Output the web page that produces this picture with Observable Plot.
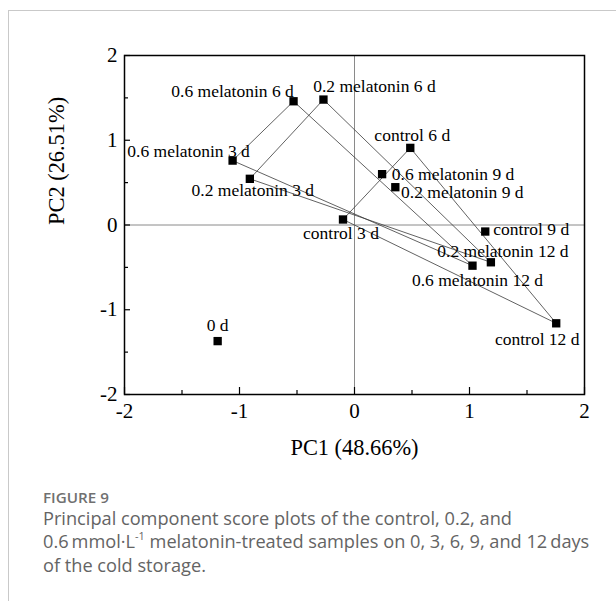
<!DOCTYPE html>
<html>
<head>
<meta charset="utf-8">
<script src="https://cdn.jsdelivr.net/npm/d3@7"></script>
<script src="https://cdn.jsdelivr.net/npm/@observablehq/plot@0.6"></script>
<style>
  html, body { margin: 0; padding: 0; background: #fff; width: 616px; height: 601px; overflow: hidden; }
  #border { position: absolute; left: 8px; top: 10px; width: 640px; height: 640px; border-left: 1.5px solid #c9c9c9; border-top: 1.5px solid #c9c9c9; }
  #chart { position: absolute; left: 0; top: 0; }
  #chart svg text { font-family: "Liberation Serif", "Times New Roman", serif; }
  #caption { position: absolute; left: 43px; top: 487px; font-family: "Open Sans", sans-serif; color: #666; }
  #caption .fig { font-weight: 600; font-size: 15.2px; line-height: 20px; color: #707070; }
  #caption .txt { font-size: 18.2px; line-height: 23.3px; color: #646464; white-space: nowrap; }
  #caption sup { font-size: 0.6em; line-height: 0; vertical-align: 0.7em; }
</style>
</head>
<body>
<div id="border"></div>
<div id="chart"></div>
<div id="caption">
  <div class="fig">FIGURE 9</div>
  <div class="txt">Principal component score plots of the control, 0.2, and<br>0.6&thinsp;mmol·L<sup>-1</sup> melatonin-treated samples on 0, 3, 6, 9, and 12&thinsp;days<br>of the cold storage.</div>
</div>
<script>
// ---- data ----
const sampleLabels = [
  "0 d",
  "0.6 melatonin 3 d", "0.2 melatonin 3 d", "control 3 d",
  "0.6 melatonin 6 d", "0.2 melatonin 6 d", "control 6 d",
  "0.6 melatonin 9 d", "0.2 melatonin 9 d", "control 9 d",
  "0.6 melatonin 12 d", "0.2 melatonin 12 d", "control 12 d"
];
const pc1Scores = [-1.19, -1.06, -0.91, -0.10, -0.53, -0.27, 0.485, 0.24, 0.355, 1.137, 1.026, 1.186, 1.754];
const pc2Scores = [-1.37, 0.76, 0.545, 0.065, 1.46, 1.48, 0.91, 0.60, 0.446, -0.077, -0.48, -0.44, -1.16];

// connecting lines (from -> to)
const connections = [
  ["0.6 melatonin 3 d", "0.6 melatonin 6 d"],
  ["0.6 melatonin 6 d", "0.6 melatonin 12 d"],
  ["0.6 melatonin 12 d", "0.6 melatonin 3 d"],
  ["0.2 melatonin 3 d", "0.2 melatonin 6 d"],
  ["0.2 melatonin 6 d", "0.2 melatonin 12 d"],
  ["0.2 melatonin 12 d", "0.2 melatonin 3 d"],
  ["control 3 d", "control 6 d"],
  ["control 6 d", "control 12 d"],
  ["control 12 d", "control 3 d"]
];

const xTicks = [-2, -1, 0, 1, 2];
const yTicks = [-2, -1, 0, 1, 2];
const xMinorTicks = [-1.5, -0.5, 0.5, 1.5];
const yMinorTicks = [-1.5, -0.5, 0.5, 1.5];
const xTitle = "PC1 (48.66%)";
const yTitle = "PC2 (26.51%)";

// label placement (pixel offsets of label centre from its marker)
const labelPlacement = {
  "0 d": [0, -16],
  "0.6 melatonin 3 d": [-44, -9],
  "0.2 melatonin 3 d": [3, 12],
  "control 3 d": [-2, 14],
  "0.6 melatonin 6 d": [-61, -10],
  "0.2 melatonin 6 d": [51, -13],
  "control 6 d": [2, -12],
  "0.6 melatonin 9 d": [71, 0],
  "0.2 melatonin 9 d": [67, 5],
  "control 9 d": [46, -2],
  "0.6 melatonin 12 d": [5, 15],
  "0.2 melatonin 12 d": [12, -11],
  "control 12 d": [-19, 16]
};

// ---- build ----
const points = sampleLabels.map((label, i) => ({label, pc1: pc1Scores[i], pc2: pc2Scores[i]}));
const byLabel = new Map(points.map(p => [p.label, p]));
const links = connections.map(([a, b]) => ({a: byLabel.get(a), b: byLabel.get(b)}));

const W = 616, H = 459;
const mL = 124, mR = 32, mT = 55, mB = 65;
const innerW = W - mL - mR, innerH = H - mT - mB;
const serif = "Liberation Serif, Times New Roman, serif";

const labelMarks = points.map(p => {
  const [dx, dy] = labelPlacement[p.label];
  return Plot.text([p], {x: "pc1", y: "pc2", text: "label", dx, dy,
    textAnchor: "middle", lineAnchor: "middle", fontSize: 17.5, fontFamily: serif, fill: "black"});
});

const chart = Plot.plot({
  width: W, height: H,
  marginLeft: mL, marginRight: mR, marginTop: mT, marginBottom: mB,
  style: {fontFamily: serif, background: "transparent", overflow: "visible"},
  x: {domain: [-2, 2]},
  y: {domain: [-2, 2]},
  marks: [
    Plot.ruleX([0], {stroke: "#8a8a8a", strokeWidth: 1}),
    Plot.ruleY([0], {stroke: "#8a8a8a", strokeWidth: 1}),
    Plot.link(links, {x1: d => d.a.pc1, y1: d => d.a.pc2, x2: d => d.b.pc1, y2: d => d.b.pc2,
      stroke: "#3a3a3a", strokeWidth: 0.8}),
    Plot.ruleX(xTicks, {x: d => d, insetTop: innerH - 7, stroke: "black", strokeWidth: 1.2}),
    Plot.ruleX(xMinorTicks, {x: d => d, insetTop: innerH - 4, stroke: "black", strokeWidth: 1.2}),
    Plot.ruleY(yTicks, {y: d => d, insetRight: innerW - 6, stroke: "black", strokeWidth: 1.2}),
    Plot.ruleY(yMinorTicks, {y: d => d, insetRight: innerW - 4, stroke: "black", strokeWidth: 1.2}),
    Plot.frame({stroke: "black", strokeWidth: 1.5}),
    Plot.axisX({ticks: xTicks, tickSize: 0, tickPadding: 9, fontSize: 21, fontFamily: serif, label: null,
      tickFormat: d => String(d), fill: "black"}),
    Plot.axisY({ticks: yTicks, tickSize: 0, tickPadding: 7, fontSize: 21, fontFamily: serif, label: null,
      tickFormat: d => String(d), fill: "black"}),
    Plot.dot(points, {x: "pc1", y: "pc2", symbol: "square", r: 4.7, fill: "black", stroke: "none"}),
    ...labelMarks,
    Plot.text([xTitle], {frameAnchor: "bottom", text: d => d, dy: 53, fontSize: 22.4, fontFamily: serif,
      lineAnchor: "middle", fill: "black"}),
    Plot.text([yTitle], {frameAnchor: "left", text: d => d, dx: -68, rotate: -90, fontSize: 22.4, fontFamily: serif,
      lineAnchor: "middle", fill: "black"})
  ]
});
document.getElementById("chart").appendChild(chart);
</script>
</body>
</html>
